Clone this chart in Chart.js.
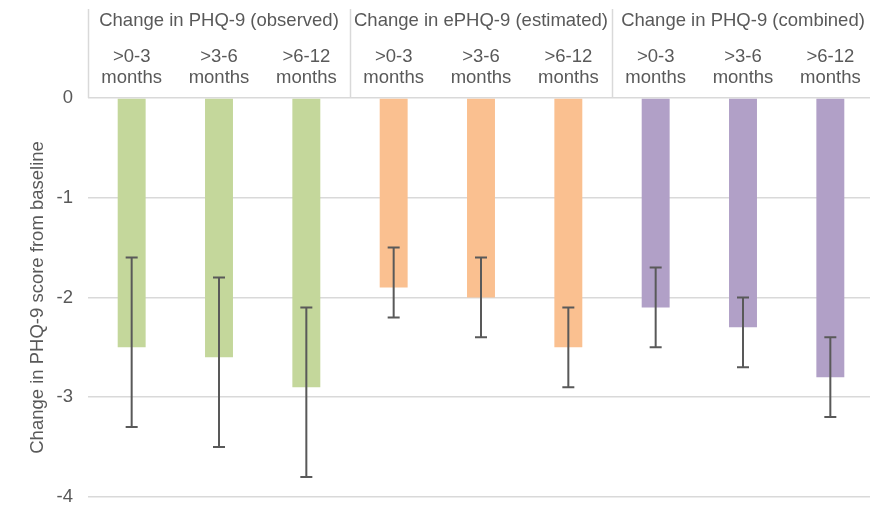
<!DOCTYPE html>
<html>
<head>
<meta charset="utf-8">
<script src="https://cdn.jsdelivr.net/npm/chart.js@4.4.1/dist/chart.umd.min.js"></script>
<style>
  html, body { margin: 0; padding: 0; background: #fff; overflow: hidden; }
  #wrap { width: 874px; height: 523px; position: relative; }
</style>
</head>
<body>
<div id="wrap"><canvas id="chartPhq"></canvas></div>
<script>
// Datos de la gráfica
const periods = [['>0-3', 'months'], ['>3-6', 'months'], ['>6-12', 'months']];
const groups = ['Change in PHQ-9 (observed)', 'Change in ePHQ-9 (estimated)', 'Change in PHQ-9 (combined)'];
const groupColors = ['#C4D79B', '#FAC090', '#B1A0C7'];

const meanChange = [-2.5, -2.6, -2.9, -1.9, -2.0, -2.5, -2.1, -2.3, -2.8];
const ciUpper = [-1.6, -1.8, -2.1, -1.5, -1.6, -2.1, -1.7, -2.0, -2.4];
const ciLower = [-3.3, -3.5, -3.8, -2.2, -2.4, -2.9, -2.5, -2.7, -3.2];

const yTicks = [0, -1, -2, -3, -4];

// Etiquetas y colores por barra
const labels = [];
const barColors = [];
groups.forEach((g, gi) => {
  periods.forEach(p => {
    labels.push(p);
    barColors.push(groupColors[gi]);
  });
});

const textColor = '#595959';
const gridColor = '#D9D9D9';
const fontFamily = '"Liberation Sans", Arial, sans-serif';
const fontSize = 18.5;

// Barras de error
const errorBars = {
  id: 'errorBars',
  afterDatasetsDraw(chart) {
    const { ctx, scales: { x, y } } = chart;
    ctx.save();
    ctx.strokeStyle = '#595959';
    ctx.lineWidth = 2;
    meanChange.forEach((v, i) => {
      const px = x.getPixelForValue(i);
      const yTop = y.getPixelForValue(ciUpper[i]);
      const yBot = y.getPixelForValue(ciLower[i]);
      ctx.beginPath();
      ctx.moveTo(px, yTop); ctx.lineTo(px, yBot);
      ctx.moveTo(px - 6, yTop); ctx.lineTo(px + 6, yTop);
      ctx.moveTo(px - 6, yBot); ctx.lineTo(px + 6, yBot);
      ctx.stroke();
    });
    ctx.restore();
  }
};

// Encabezado de grupos
const groupHeader = {
  id: 'groupHeader',
  afterDraw(chart) {
    const { ctx, scales: { x } } = chart;
    const catW = (x.right - x.left) / labels.length;
    ctx.save();
    ctx.strokeStyle = gridColor;
    ctx.lineWidth = 1.5;
    for (let g = 0; g <= groups.length; g++) {
      const bx = Math.round(x.left + g * 3 * catW) + 0.5;
      ctx.beginPath();
      ctx.moveTo(bx, 9);
      ctx.lineTo(bx, x.bottom);
      ctx.stroke();
    }
    ctx.fillStyle = textColor;
    ctx.font = fontSize + 'px ' + fontFamily;
    ctx.textAlign = 'center';
    ctx.textBaseline = 'middle';
    groups.forEach((g, gi) => {
      const cx = x.left + (gi * 3 + 1.5) * catW;
      ctx.fillText(g, cx, 21);
    });
    ctx.restore();
  }
};

const ctx = document.getElementById('chartPhq').getContext('2d');
new Chart(ctx, {
  type: 'bar',
  data: {
    labels: labels,
    datasets: [{
      data: meanChange,
      backgroundColor: barColors,
      borderWidth: 0,
      barPercentage: 0.32,
      categoryPercentage: 1
    }]
  },
  options: {
    responsive: true,
    maintainAspectRatio: false,
    animation: false,
    layout: { padding: 0 },
    plugins: {
      legend: { display: false },
      tooltip: { enabled: false }
    },
    scales: {
      x: {
        position: 'top',
        grid: { display: false, drawTicks: false },
        border: { display: false },
        ticks: {
          color: textColor,
          padding: 10,
          maxRotation: 0,
          font: { family: fontFamily, size: fontSize, lineHeight: 1.12 }
        },
        afterFit(scale) { scale.height = 98; }
      },
      y: {
        min: -4,
        max: 0,
        afterBuildTicks(scale) { scale.ticks = yTicks.map(v => ({ value: v })); },
        grid: { color: gridColor, lineWidth: 1.5, drawTicks: false },
        border: { display: false },
        ticks: {
          color: textColor,
          padding: 15,
          font: { family: fontFamily, size: fontSize }
        },
        title: {
          display: true,
          text: 'Change in PHQ-9 score from baseline',
          color: textColor,
          padding: { top: 27, bottom: 0 },
          font: { family: fontFamily, size: fontSize }
        },
        afterFit(scale) { scale.width = 88; }
      }
    }
  },
  plugins: [errorBars, groupHeader]
});
</script>
</body>
</html>
